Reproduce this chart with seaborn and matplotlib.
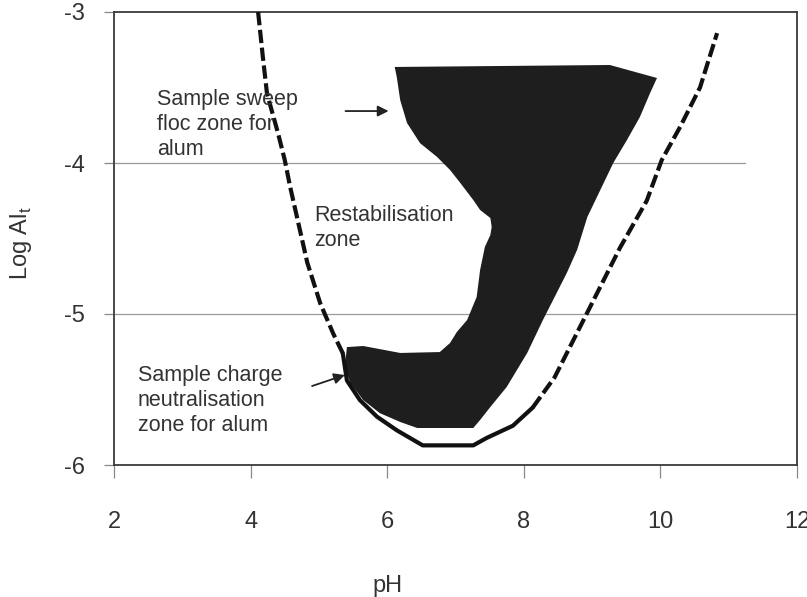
import matplotlib
matplotlib.use("Agg")
import matplotlib.pyplot as plt
import pandas as pd
import seaborn as sns

# Operating zone for alum coagulation (sweep floc + charge neutralisation), outline in pH / log Al_t
zone_ph = [6.11, 9.26, 9.95, 9.85, 9.70, 9.51, 9.31, 9.12, 8.93, 8.78, 8.63, 8.28,
           8.05, 7.75, 7.51, 7.36, 7.26, 6.44, 6.19, 5.89, 5.65, 5.46, 5.38, 5.41,
           5.65, 6.19, 6.77, 6.92, 7.02, 7.17, 7.31, 7.36, 7.43, 7.51, 7.53, 7.51,
           7.36, 7.26, 7.07, 6.92, 6.73, 6.48, 6.29, 6.19, 6.14]
zone_logal = [-3.364, -3.351, -3.437, -3.536, -3.695, -3.848, -4.000, -4.179, -4.358,
              -4.576, -4.728, -5.040, -5.258, -5.483, -5.616, -5.702, -5.755, -5.755,
              -5.715, -5.656, -5.570, -5.457, -5.351, -5.219, -5.212, -5.258, -5.252,
              -5.192, -5.119, -5.040, -4.887, -4.709, -4.556, -4.477, -4.424, -4.364,
              -4.311, -4.245, -4.132, -4.046, -3.960, -3.868, -3.735, -3.583, -3.430]

# Aluminium hydroxide solubility boundary, split into acid side, minimum and alkaline side
acid_ph = [4.11, 4.18, 4.24, 4.40, 4.50, 4.58, 4.72, 4.83, 5.02, 5.21, 5.35]
acid_logal = [-3.00, -3.30, -3.54, -3.80, -3.98, -4.16, -4.44, -4.66, -4.93, -5.13, -5.26]
min_ph = [5.35, 5.41, 5.60, 5.85, 6.14, 6.52, 7.26, 7.46, 7.84, 8.13]
min_logal = [-5.26, -5.44, -5.57, -5.68, -5.77, -5.87, -5.87, -5.82, -5.74, -5.62]
alk_ph = [8.13, 8.45, 8.93, 9.41, 9.80, 10.02, 10.29, 10.58, 10.83]
alk_logal = [-5.62, -5.42, -4.99, -4.56, -4.25, -3.98, -3.76, -3.50, -3.14]

x_ticks = [2, 4, 6, 8, 10, 12]
y_ticks = [-6, -5, -4, -3]

sns.set_theme(style="white")
plt.rcParams["font.family"] = ["Liberation Sans", "DejaVu Sans"]
plt.rcParams["axes.unicode_minus"] = False
plt.rcParams["mathtext.fontset"] = "custom"
plt.rcParams["mathtext.rm"] = "Liberation Sans"

fig = plt.figure(figsize=(8.07, 5.97), dpi=100)
ax = fig.add_axes([114 / 807, 1 - 465 / 597, 683 / 807, 453 / 597])

txt = "#333333"

# grid lines at the inner log levels
ax.axhline(-4, xmax=0.924, color="#9a9a9a", lw=0.9, zorder=0)
ax.axhline(-5, color="#9a9a9a", lw=0.9, zorder=0)

# shaded operating zone
ax.fill(zone_ph, zone_logal, color="#1e1e1e", lw=0, zorder=2)

# solubility boundary
dash = dict(color="#111111", lw=3.0, dashes=(3.2, 1.1), estimator=None, sort=False, zorder=3)
sns.lineplot(x=acid_ph, y=acid_logal, ax=ax, **dash)
sns.lineplot(x=alk_ph, y=alk_logal, ax=ax, **dash)
sns.lineplot(x=min_ph, y=min_logal, ax=ax, color="#111111", lw=3.0,
             estimator=None, sort=False, zorder=3)

ax.set_xlim(2, 12)
ax.set_ylim(-6, -3)
ax.set_xticks(x_ticks)
ax.set_yticks(y_ticks)
ax.set_xticklabels([str(v) for v in x_ticks])
ax.set_yticklabels([str(v) for v in y_ticks])

for s in ax.spines.values():
    s.set_visible(True)
    s.set_color("#3a3a3a")
    s.set_linewidth(1.3)

ax.tick_params(axis="x", direction="out", length=9, width=0.9, color="#888888",
               labelsize=17, labelcolor=txt, pad=24, bottom=True)
ax.tick_params(axis="y", direction="out", length=7, width=0.9, color="#888888",
               labelsize=17, labelcolor=txt, pad=14, left=True)

ax.set_xlabel("pH", fontsize=17, color=txt)
ax.set_ylabel(r"Log Al$_\mathregular{t}$", fontsize=17, color=txt)
ax.xaxis.set_label_coords(0.40, -0.242)
ax.yaxis.set_label_coords(-0.117, 0.49)

# zone annotations
ax.text(2.63, -3.748, "Sample sweep\nfloc zone for\nalum", fontsize=15.5, color=txt,
        ha="left", va="center", linespacing=1.25)
ax.text(4.93, -4.43, "Restabilisation\nzone", fontsize=15.5, color=txt,
        ha="left", va="center", linespacing=1.25)
ax.text(2.35, -5.576, "Sample charge\nneutralisation\nzone for alum", fontsize=15.5, color=txt,
        ha="left", va="center", linespacing=1.25)

arrow = dict(arrowstyle="-|>", color="#222222", lw=1.3, mutation_scale=16,
             shrinkA=0, shrinkB=0)
ax.annotate("", xy=(6.02, -3.656), xytext=(5.39, -3.656), arrowprops=arrow)
ax.annotate("", xy=(5.38, -5.404), xytext=(4.90, -5.477), arrowprops=arrow)

fig.savefig("out.png", dpi=100)
